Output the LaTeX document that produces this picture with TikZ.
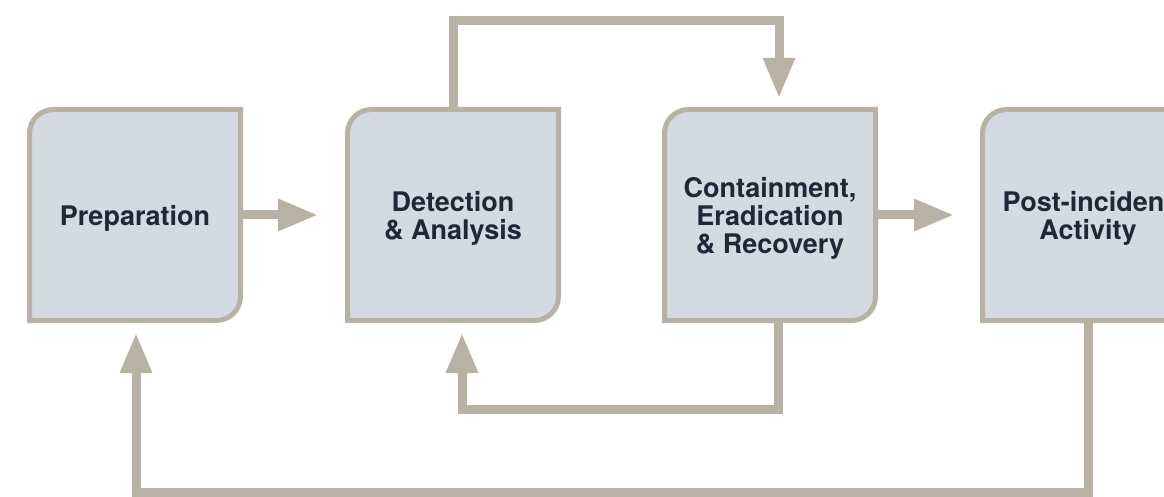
\documentclass[tikz,border=0pt]{standalone}
\usepackage{fontspec}
\setmainfont{TeX Gyre Heros}
\usetikzlibrary{arrows.meta,backgrounds,calc}
\definecolor{edge}{RGB}{184,178,165}
\definecolor{boxfill}{RGB}{213,218,226}
\definecolor{ink}{RGB}{35,38,56}
\tikzset{
  stage/.style={minimum width=211pt,minimum height=211pt,inner sep=0pt,outer sep=0pt,
    align=center,text=ink,text depth=0pt,font=\bfseries\fontsize{27}{28}\selectfont},
  stagebox/.style={draw=edge,fill=boxfill,line width=5pt},
  flow/.style={draw=edge,line width=9pt,-{Triangle[length=40pt,width=30pt]}},
}
\newcommand\stageshape[1]{%
  \draw[stagebox] (#1.south west) -- ([yshift=-24pt]#1.north west)
    arc[start angle=180,end angle=90,radius=24pt] -- (#1.north east)
    -- ([yshift=24pt]#1.south east)
    arc[start angle=0,end angle=-90,radius=24pt] -- cycle;}
\begin{document}
\begin{tikzpicture}[x=1pt,y=1pt]
\useasboundingbox (0,0) rectangle (1164,496);
\node[stage] (b1) at (135,281) {Preparation};
\node[stage] (b2) at (453,281) {Detection\\\& Analysis};
\node[stage] (b3) at (770,281) {Containment,\\Eradication\\\& Recovery};
\node[stage] (b4) at (1088,281) {Post-incident\\Activity};
\coordinate (up2) at (779,475);
\coordinate (tip1) at (779,398);
\coordinate (dn1) at (778.5,86.5);
\coordinate (tip2) at (462,163);
\coordinate (lo) at (1088,4);
\coordinate (tip3) at (136,163);
\begin{scope}[on background layer]
  \draw[flow,shorten >=29.5pt] (b1.east) -- (b2.west);
  \draw[flow,shorten >=28.5pt] (b3.east) -- (b4.west);
  \draw[flow] (b2.north) |- (up2) -- (tip1);
  \draw[flow] (b3.south -| dn1) -- (dn1) -| (tip2);
  \draw[flow] (b4.south) -- (lo) -| (tip3);
  \stageshape{b1}
  \stageshape{b2}
  \stageshape{b3}
  \stageshape{b4}
\end{scope}
\end{tikzpicture}
\end{document}
